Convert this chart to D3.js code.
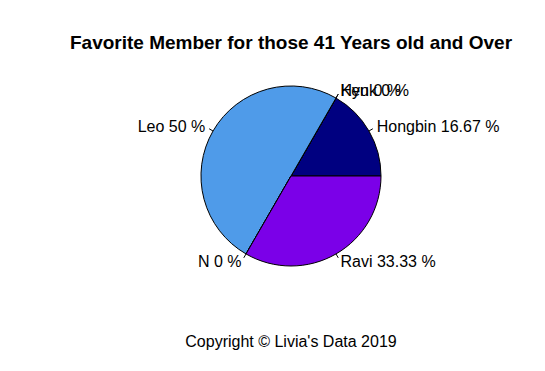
<!DOCTYPE html>
<html>
<head>
<meta charset="utf-8">
<script src="https://cdn.jsdelivr.net/npm/d3@7"></script>
<style>
  body { margin: 0; background: #fff; }
  text { font-family: "Liberation Sans", Arial, sans-serif; fill: #000; }
</style>
</head>
<body>
<div id="chart"></div>
<script>
const members = ['Hongbin', 'Hyuk', 'Ken', 'Leo', 'N', 'Ravi'];
const percents = [16.67, 0, 0, 50, 0, 33.33];
const colors = ['#000080', '#8a2be2', '#1e90ff', '#4f9be9', '#9400d3', '#7b00e8'];

const width = 545, height = 371;
const cx = 291, cy = 176, r = 90;

const svg = d3.select('#chart').append('svg')
    .attr('width', width)
    .attr('height', height);

// R pie: starts at 3 o'clock and goes counterclockwise
const pie = d3.pie()
    .sort(null)
    .value(d => d.v)
    .startAngle(Math.PI / 2)
    .endAngle(Math.PI / 2 - 2 * Math.PI);

const arc = d3.arc().innerRadius(0).outerRadius(r);

const data = members.map((m, i) => ({ name: m, v: percents[i], color: colors[i] }));
const arcs = pie(data);

const g = svg.append('g').attr('transform', `translate(${cx},${cy})`);

g.selectAll('path.slice')
    .data(arcs)
    .join('path')
    .attr('class', 'slice')
    .attr('d', arc)
    .style('fill', d => d.data.color)
    .style('stroke', 'black')
    .attr('stroke-width', 1);

const mid = d => (d.startAngle + d.endAngle) / 2;

// tick lines
g.selectAll('line.tick')
    .data(arcs)
    .join('line')
    .attr('x1', d => Math.sin(mid(d)) * r)
    .attr('y1', d => -Math.cos(mid(d)) * r)
    .attr('x2', d => Math.sin(mid(d)) * r * 1.05)
    .attr('y2', d => -Math.cos(mid(d)) * r * 1.05)
    .style('stroke', 'black')
    .attr('stroke-width', 1);

g.selectAll('text.lbl')
    .data(arcs)
    .join('text')
    .attr('class', 'lbl')
    .attr('x', d => Math.sin(mid(d)) * r * 1.1)
    .attr('y', d => -Math.cos(mid(d)) * r * 1.1)
    .attr('dy', '0.35em')
    .attr('text-anchor', d => Math.sin(mid(d)) < 0 ? 'end' : 'start')
    .style('font-size', '16px')
    .text(d => `${d.data.name} ${d.data.v} %`);

// Title
svg.append('text')
    .attr('x', cx)
    .attr('y', 49)
    .attr('text-anchor', 'middle')
    .style('font-size', '19px')
    .style('font-weight', 'bold')
    .text('Favorite Member for those 41 Years old and Over');

// Caption
svg.append('text')
    .attr('x', cx)
    .attr('y', 347)
    .attr('text-anchor', 'middle')
    .style('font-size', '16px')
    .text("Copyright \u00A9 Livia's Data 2019");
</script>
</body>
</html>
